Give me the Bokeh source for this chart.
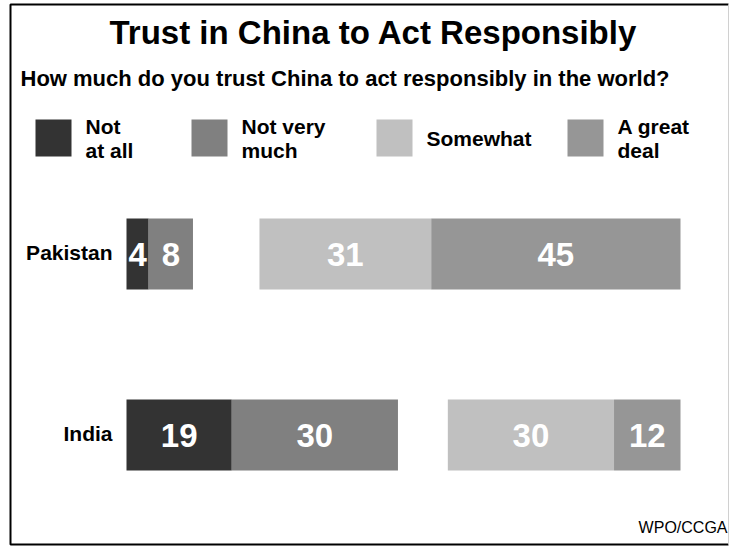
from bokeh.plotting import figure
from bokeh.models import ColumnDataSource, Range1d
from bokeh.core.properties import value
from bokeh.embed import file_html
from bokeh.resources import INLINE

# ---- data ----
countries = ["Pakistan", "India"]
not_at_all = [4, 19]
not_very_much = [8, 30]
somewhat = [31, 30]
great_deal = [45, 12]

series_names = ["Not at all", "Not very much", "Somewhat", "A great deal"]
legend_lines = [["Not", "at all"], ["Not very", "much"], ["Somewhat"], ["A great", "deal"]]
colors = ["#333333", "#808080", "#c0c0c0", "#969696"]

title_text = "Trust in China to Act Responsibly"
subtitle_text = "How much do you trust China to act responsibly in the world?"
source_text = "WPO/CCGA"

FONT = "Liberation Sans"

# ---- geometry (page pixels -> data units) ----
W, H = 729, 546
PAGE_L, PAGE_T = 0, 0
X0, XS = 126.0, 5.54          # page x of value 0, px per unit
ROW1_Y, YS = 253.5, 181.0     # page y of Pakistan row (index 1), px per row


def dx(page_x):
    return (page_x - X0) / XS


def dy(page_y):
    return 1 + (ROW1_Y - page_y) / YS


p = figure(width=W, height=H, output_backend="svg", toolbar_location=None,
           x_range=Range1d(dx(PAGE_L), dx(PAGE_L + W)),
           y_range=Range1d(dy(PAGE_T + H), dy(PAGE_T)),
           x_axis_type=None, y_axis_type=None,
           min_border=0, min_border_left=0, min_border_right=0,
           min_border_top=0, min_border_bottom=0)
p.grid.visible = False
p.outline_line_color = None
p.background_fill_color = "white"
p.border_fill_color = "white"

# frame border (left, top, bottom dark; right faint)
bl, bt, br, bb = 10, 4, 728, 544
p.line(x=[dx(br), dx(bl), dx(bl), dx(br)], y=[dy(bt), dy(bt), dy(bb), dy(bb)],
       line_color="black", line_width=2)
p.line(x=[dx(br), dx(br)], y=[dy(bt), dy(bb)], line_color="#d0d0d0", line_width=1)

# row positions from category order (Pakistan on top)
n = len(countries)
rows = [n - 1 - i for i in range(n)]

# segments: left group starts at 0, right group ends at 100
segs = []
for i in range(n):
    a, b, c, d = not_at_all[i], not_very_much[i], somewhat[i], great_deal[i]
    segs.append([(0, a), (a, a + b), (100 - (c + d), 100 - d), (100 - d, 100)])

bar_h = 71.0 / YS
for k, vals in enumerate([not_at_all, not_very_much, somewhat, great_deal]):
    left = [segs[i][k][0] for i in range(n)]
    right = [segs[i][k][1] for i in range(n)]
    src = ColumnDataSource(dict(
        left=left, right=right,
        bottom=[r - bar_h / 2 for r in rows], top=[r + bar_h / 2 for r in rows],
        xc=[(l + r) / 2 for l, r in zip(left, right)], y=rows,
        label=[str(v) for v in vals]))
    p.quad(left="left", right="right", bottom="bottom", top="top", source=src,
           fill_color=colors[k], line_color=None)
    p.text(x="xc", y="y", text="label", source=src, text_align="center",
           text_baseline="middle", text_color="white",
           text_font=value(FONT), text_font_style="bold", text_font_size="33px")

# country labels
p.text(x=[0] * n, y=rows, text=countries, x_offset=-14, y_offset=-2,
       text_align="right", text_baseline="middle", text_color="black",
       text_font=value(FONT), text_font_style="bold", text_font_size="21px")

# title & subtitle
p.text(x=[dx(373)], y=[dy(32)], text=[title_text], text_align="center",
       text_baseline="middle", text_font=value(FONT), text_font_style="bold",
       text_font_size="33px", text_color="black")
p.text(x=[dx(20)], y=[dy(78)], text=[subtitle_text], text_align="left",
       text_baseline="middle", text_font=value(FONT), text_font_style="bold",
       text_font_size="22px", text_color="black")

# legend
sq_left = [35, 191, 376, 567]
sq_w, sq_top, sq_bot = 36, 119, 156
p.quad(left=[dx(x) for x in sq_left], right=[dx(x + sq_w) for x in sq_left],
       top=[dy(sq_top)] * 4, bottom=[dy(sq_bot)] * 4, fill_color=colors, line_color=None)
for k, lines in enumerate(legend_lines):
    tx = dx(sq_left[k] + 50)
    if len(lines) == 1:
        ys = [138]
    else:
        ys = [126, 150]
    for line, yc in zip(lines, ys):
        p.text(x=[tx], y=[dy(yc)], text=[line], text_align="left",
               text_baseline="middle", text_font=value(FONT),
               text_font_style="bold", text_font_size="21px", text_color="black")

# source
p.text(x=[dx(727)], y=[dy(527)], text=[source_text], text_align="right",
       text_baseline="middle", text_font=value(FONT), text_font_size="16px",
       text_color="black")

open("out.html", "w").write(file_html(p, INLINE))
